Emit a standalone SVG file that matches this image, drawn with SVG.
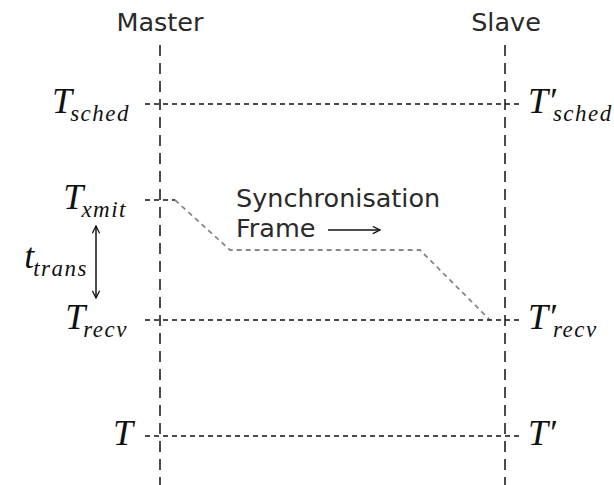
<svg xmlns="http://www.w3.org/2000/svg" width="614" height="485" viewBox="0 0 614 485">
<style>
.sans{font-family:"DejaVu Sans",sans-serif;font-size:25.5px;fill:#2a2a2a}
.math{font-family:"Liberation Serif",serif;font-style:italic;font-size:36px;fill:#111}
.sub{font-size:23px;letter-spacing:1.5px}
.life{stroke:#111;stroke-width:1.5;stroke-dasharray:11 7;fill:none}
.tick{stroke:#111;stroke-width:1.3;stroke-dasharray:5 4;fill:none}
.frame{stroke:#888;stroke-width:1.8;stroke-dasharray:5 4;fill:none}
</style>
<defs>
<marker id="ah" viewBox="0 0 10 10" refX="9" refY="5" markerWidth="9" markerHeight="9" orient="auto-start-reverse" markerUnits="userSpaceOnUse">
<path d="M1,1 L9,5 L1,9" fill="none" stroke="#111" stroke-width="1.4"/>
</marker>
</defs>
<g id="master"><text class="sans" x="160" y="31" text-anchor="middle">Master</text></g>
<g id="slave"><text class="sans" x="506" y="31" text-anchor="middle">Slave</text></g>
<g id="connectors">
<line class="life" x1="160" y1="45" x2="160" y2="485"/>
<line class="life" x1="505" y1="45" x2="505" y2="485"/>
<line class="tick" x1="145" y1="104" x2="522" y2="104"/>
<line class="tick" x1="145" y1="200" x2="175" y2="200"/>
<path class="frame" d="M175,200 L230,250 L420,250 L490,320"/>
<line class="tick" x1="145" y1="320" x2="522" y2="320"/>
<line class="tick" x1="145" y1="436" x2="522" y2="436"/>
<line stroke="#111" stroke-width="1.5" x1="96" y1="226" x2="96" y2="298" marker-start="url(#ah)" marker-end="url(#ah)"/>
<line stroke="#111" stroke-width="1.5" x1="328" y1="230" x2="380" y2="230" marker-end="url(#ah)"/>
</g>
<g id="tsched"><text class="math" x="130" y="113" text-anchor="end">T<tspan class="sub" dx="-2" dy="8">sched</tspan></text></g>
<g id="txmit"><text class="math" x="127" y="209" text-anchor="end">T<tspan class="sub" dx="-2" dy="8">xmit</tspan></text></g>
<g id="ttrans"><text class="math" x="88" y="268" text-anchor="end">t<tspan class="sub" dx="-1" dy="8">trans</tspan></text></g>
<g id="trecv"><text class="math" x="128" y="329" text-anchor="end">T<tspan class="sub" dx="-2" dy="8">recv</tspan></text></g>
<g id="t"><text class="math" x="133" y="445" text-anchor="end">T</text></g>
<g id="tsched2"><text class="math" x="528" y="113">T′<tspan class="sub" dx="-3" dy="8">sched</tspan></text></g>
<g id="trecv2"><text class="math" x="528" y="329">T′<tspan class="sub" dx="-3" dy="8">recv</tspan></text></g>
<g id="t2"><text class="math" x="528" y="445">T′</text></g>
<g id="frame-label">
<text class="sans" x="236" y="207">Synchronisation</text>
<text class="sans" x="236" y="237">Frame</text>
</g>
</svg>
